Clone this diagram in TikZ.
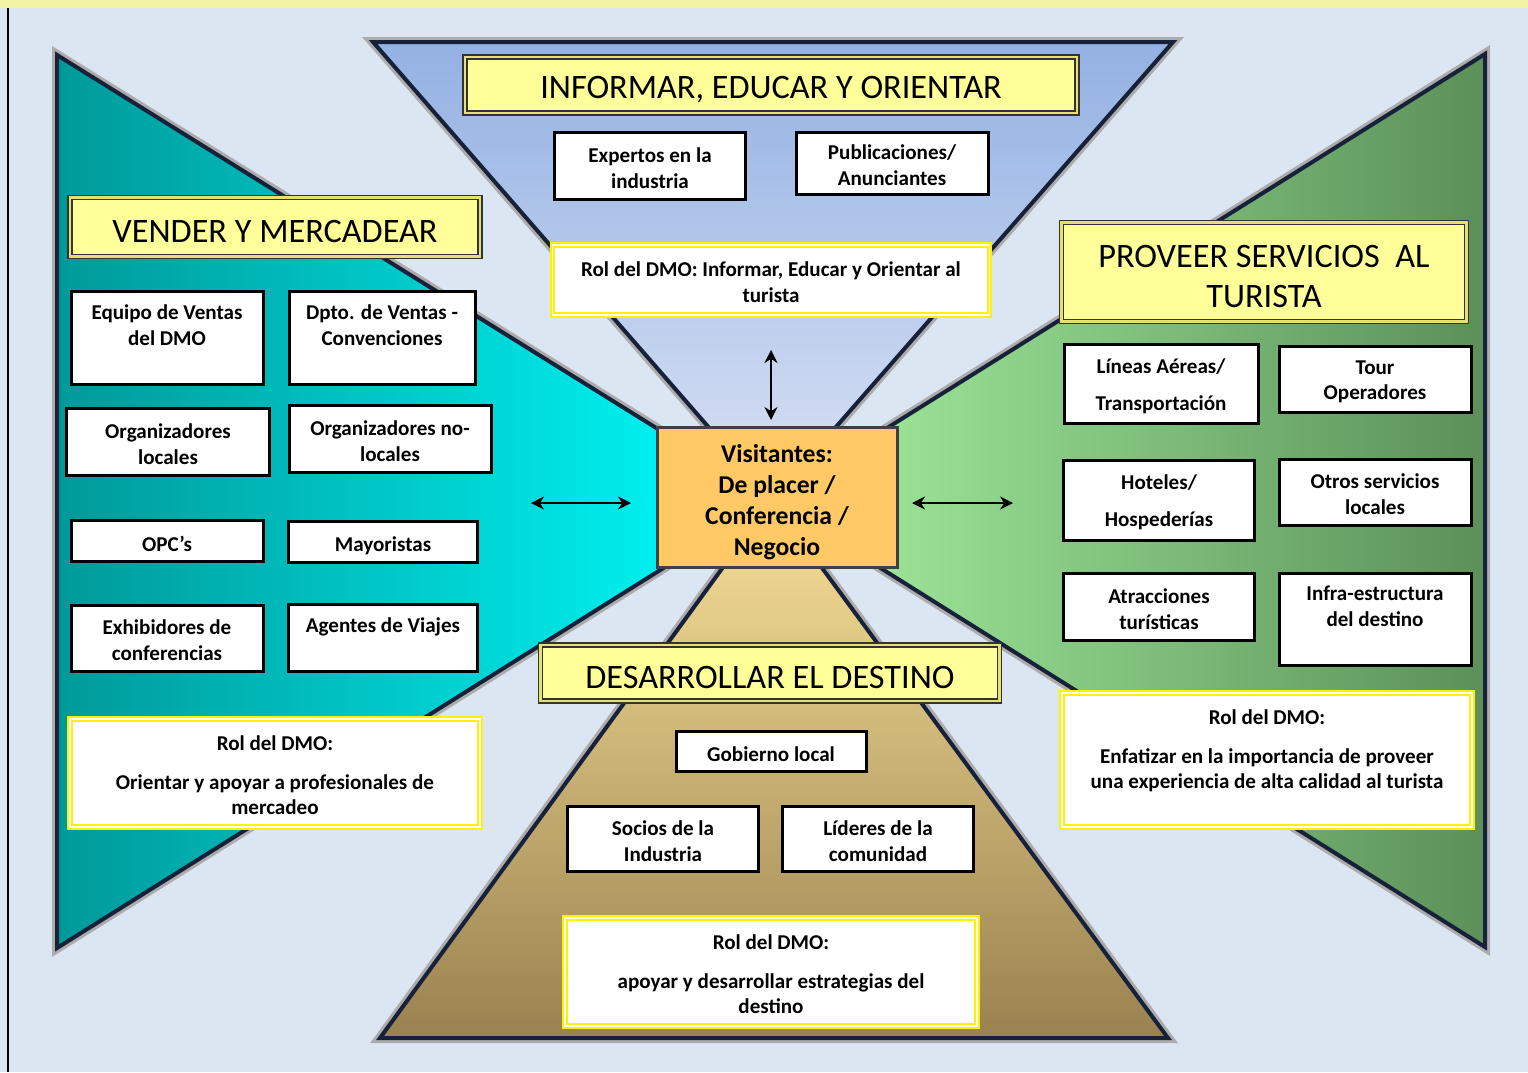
\documentclass[tikz,border=0pt]{standalone}
\usepackage{fontspec}
\setmainfont{Carlito}
\usetikzlibrary{arrows.meta}
\definecolor{fondo}{HTML}{DCE6F2}
\definecolor{franja}{HTML}{F3F3A6}
\definecolor{contorno}{HTML}{17223A}
\definecolor{amarillo}{HTML}{FFFF99}
\definecolor{dobleamarillo}{HTML}{E6E070}
\definecolor{naranja}{HTML}{FFC966}
\definecolor{azulA}{HTML}{93B1E3}
\definecolor{azulB}{HTML}{DAE2F4}
\definecolor{tealA}{HTML}{009999}
\definecolor{tealB}{HTML}{00FFFF}
\definecolor{verdeA}{HTML}{A6F2A2}
\definecolor{verdeB}{HTML}{5B9058}
\definecolor{ocreA}{HTML}{F8E098}
\definecolor{ocreB}{HTML}{9A8250}
\tikzset{
  sz/.style 2 args={minimum width=#1*0.2mm, minimum height=#2*0.2mm},
  caja/.style={draw=black, line width=0.6mm, fill=white, inner sep=1pt, align=center,
    font=\bfseries\fontsize{12}{14.5}\selectfont, execute at begin node={\rule{0pt}{12.5pt}}},
  titulo/.style={draw=black!80, double=dobleamarillo, double distance=0.45mm, line width=0.3mm,
    fill=amarillo, inner sep=1pt, align=center, font=\fontsize{19.5}{23}\selectfont,
    execute at begin node={\rule{0pt}{18pt}}},
  rol/.style={draw=yellow, double=white, double distance=0.3mm, line width=0.4mm,
    fill=white, inner sep=1pt, align=center, font=\bfseries\fontsize{12}{14.5}\selectfont,
    execute at begin node={\rule{0pt}{12.5pt}}},
  halo/.style={draw=gray!65, line width=2mm},
  borde/.style={draw=contorno, line width=0.8mm},
  flecha/.style={<->, line width=0.4mm, >={Stealth[length=2.6mm,width=2.6mm]}}
}
\begin{document}
\begin{tikzpicture}[x=0.2mm,y=-0.2mm]
  \useasboundingbox (0,0) rectangle (1528,1072);
  \fill[fondo] (0,0) rectangle (1528,1072);
  \fill[franja] (0,0) rectangle (1528,8);
  \draw[line width=0.3mm] (8,8) -- (8,1072);

  \draw[halo] (373,42) -- (1173,42) -- (772,500) -- cycle;
  \draw[halo] (57,55) -- (772,500) -- (57,948) -- cycle;
  \draw[halo] (1485,54) -- (772,500) -- (1485,947) -- cycle;
  \draw[halo] (380,1038) -- (772,500) -- (1168,1038) -- cycle;

  \shade[top color=azulA, bottom color=azulB] (373,42) -- (1173,42) -- (772,500) -- cycle;
  \draw[borde] (373,42) -- (1173,42) -- (772,500) -- cycle;
  \shade[left color=tealA, right color=tealB] (57,55) -- (772,500) -- (57,948) -- cycle;
  \draw[borde] (57,55) -- (772,500) -- (57,948) -- cycle;
  \shade[left color=verdeA, right color=verdeB] (1485,54) -- (772,500) -- (1485,947) -- cycle;
  \draw[borde] (1485,54) -- (772,500) -- (1485,947) -- cycle;
  \shade[top color=ocreA, bottom color=ocreB] (380,1038) -- (772,500) -- (1168,1038) -- cycle;
  \draw[borde] (380,1038) -- (772,500) -- (1168,1038) -- cycle;

  \node[titulo, sz={612}{56}] (tituloInf) at (771,85) {INFORMAR, EDUCAR Y ORIENTAR};
  \node[caja, sz={191}{67}] (expertos) at (650,166) {\rule{0pt}{11pt}Expertos en la\\industria};
  \node[caja, sz={192}{62}] (publicaciones) at (892,163) {\rule{0pt}{11pt}Publicaciones/\\Anunciantes};
  \node[rol, sz={437}{70}] (rolInf) at (771,280) {\rule{0pt}{11pt}Rol del DMO: Informar, Educar y Orientar al\\turista};

  \node[titulo, sz={410}{59}] (tituloVen) at (275,227) {VENDER Y MERCADEAR};
  \node[caja, sz={192}{93}] (equipo) at (167,338) {Equipo de Ventas\\del DMO\\ };
  \node[caja, sz={186}{93}] (dpto) at (382,338) {Dpto. de Ventas -\\Convenciones\\ };
  \node[caja, sz={203}{67}] (orgLocales) at (168,442) {\rule{0pt}{11pt}Organizadores\\locales};
  \node[caja, sz={202}{67}] (orgNoLocales) at (390,439) {\rule{0pt}{11pt}Organizadores no-\\locales};
  \node[caja, sz={192}{41}] (opc) at (167,541) {OPC’s};
  \node[caja, sz={189}{41}] (mayoristas) at (383,542) {Mayoristas};
  \node[caja, sz={192}{66}] (exhibidores) at (167,638) {\rule{0pt}{11pt}Exhibidores de\\conferencias};
  \node[caja, sz={189}{67}] (agentes) at (383,638) {Agentes de Viajes\\ };
  \node[rol, sz={410}{108}] (rolVen) at (275,773) {\rule{0pt}{11pt}Rol del DMO:\\[7.5pt]Orientar y apoyar a profesionales de\\mercadeo};

  \node[titulo, sz={405}{99}] (tituloProv) at (1264,272) {\rule{0pt}{18pt}PROVEER SERVICIOS \ AL\\TURISTA};
  \node[caja, sz={194}{79}] (lineas) at (1161,384) {\rule{0pt}{11pt}Líneas Aéreas/\\[6.5pt]Transportación};
  \node[caja, sz={192}{66}] (tour) at (1375,379) {\rule{0pt}{11pt}Tour\\Operadores};
  \node[caja, sz={191}{80}] (hoteles) at (1159,500) {\rule{0pt}{11pt}Hoteles/\\[6.5pt]Hospederías};
  \node[caja, sz={192}{66}] (otros) at (1375,492) {\rule{0pt}{11pt}Otros servicios\\locales};
  \node[caja, sz={191}{67}] (atracciones) at (1159,607) {\rule{0pt}{11pt}Atracciones\\turísticas};
  \node[caja, sz={192}{92}] (infra) at (1375,619) {Infra-estructura\\del destino\\ };
  \node[rol, sz={410}{134}] (rolProv) at (1267,760) {Rol del DMO:\\[7.5pt]Enfatizar en la importancia de proveer\\una experiencia de alta calidad al turista\\[-2pt]\mbox{}};

  \node[titulo, sz={459}{56}] (tituloDes) at (770,673) {DESARROLLAR EL DESTINO};
  \node[caja, sz={190}{40}] (gobierno) at (771,751) {Gobierno local};
  \node[caja, sz={191}{65}] (socios) at (663,839) {\rule{0pt}{11pt}Socios de la\\Industria};
  \node[caja, sz={191}{65}] (lideres) at (878,839) {\rule{0pt}{11pt}Líderes de la\\comunidad};
  \node[rol, sz={412}{108}] (rolDes) at (771,972) {\rule{0pt}{11pt}Rol del DMO:\\[7.5pt]apoyar y desarrollar estrategias del\\destino};

  \node[draw=black!75, line width=0.6mm, fill=naranja, sz={240}{140}, align=center,
    font=\bfseries\fontsize{14.6}{17.5}\selectfont] (visitantes) at (777,497)
    {\rule{0pt}{16pt}Visitantes:\\De placer /\\Conferencia /\\Negocio};

  \coordinate (arribaA) at (771,350);
  \coordinate (arribaB) at (771,420);
  \coordinate (izqA) at (531,503);
  \coordinate (izqB) at (631,503);
  \coordinate (derA) at (912,503);
  \coordinate (derB) at (1013,503);
  \draw[flecha] (arribaA) -- (arribaB);
  \draw[flecha] (izqA) -- (izqB);
  \draw[flecha] (derA) -- (derB);
\end{tikzpicture}
\end{document}
